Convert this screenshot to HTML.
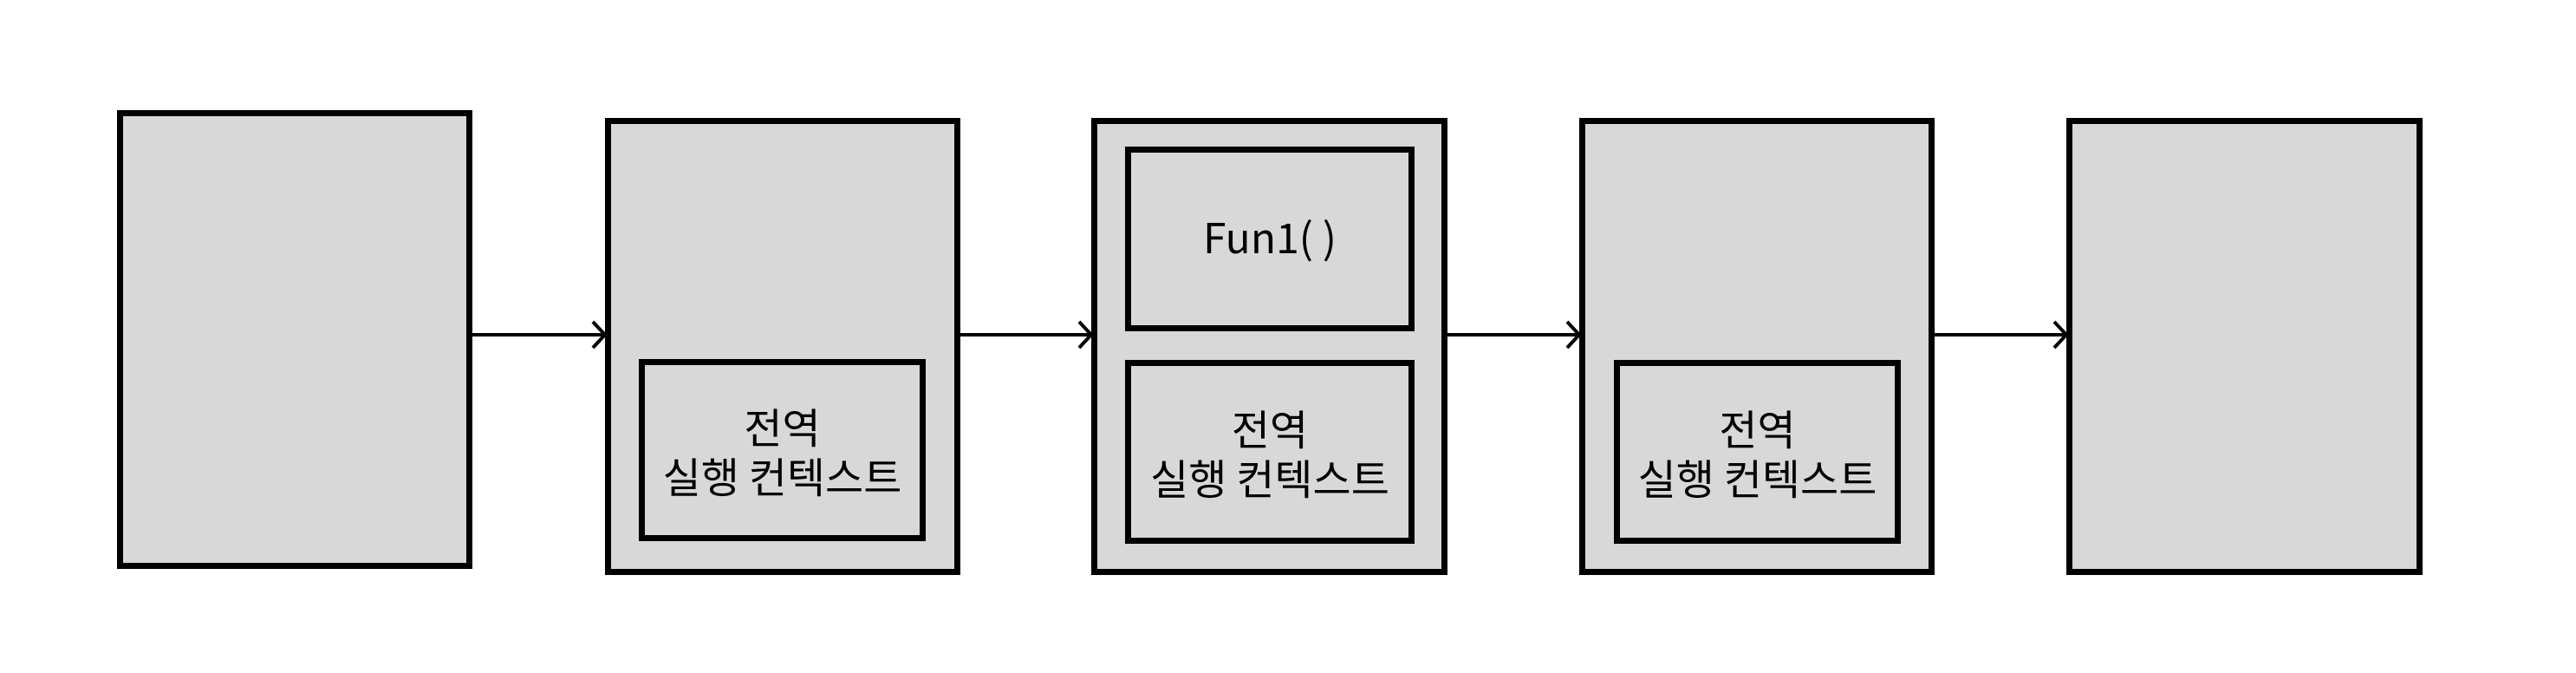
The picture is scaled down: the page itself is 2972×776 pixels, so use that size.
<!DOCTYPE html>
<html><head><meta charset="utf-8"><style>
html,body{margin:0;padding:0;background:#fff;}
body{width:2972px;height:776px;position:relative;overflow:hidden;font-family:"Liberation Sans","Noto Sans CJK KR",sans-serif;}
.b{position:absolute;background:#d8d8d8;border:7px solid #000;box-sizing:border-box;}
.t{position:absolute;display:flex;align-items:center;justify-content:center;text-align:center;font-size:48px;line-height:57px;color:#000;font-family:"Noto Sans CJK KR",sans-serif;}
</style></head><body>
<div class="b" style="left:135px;top:127px;width:410px;height:529px"></div>
<div class="b" style="left:698px;top:136px;width:410px;height:527px"></div>
<div class="b" style="left:1259px;top:136px;width:411px;height:527px"></div>
<div class="b" style="left:1822px;top:136px;width:410px;height:527px"></div>
<div class="b" style="left:2384px;top:136px;width:411px;height:527px"></div>

<div class="b t" style="left:737px;top:414px;width:331px;height:210px">전역<br>실행 컨텍스트</div>
<div class="b t" style="left:1298px;top:169px;width:334px;height:213px;padding-bottom:8px">Fun1( )</div>
<div class="b t" style="left:1298px;top:415px;width:334px;height:212px">전역<br>실행 컨텍스트</div>
<div class="b t" style="left:1862px;top:415px;width:331px;height:212px">전역<br>실행 컨텍스트</div>

<svg width="2972" height="776" style="position:absolute;left:0;top:0" fill="none" stroke="#000" stroke-width="4">
<path d="M545 386H698M684 371L698 386L684 401"/>
<path d="M1108 386H1259M1245 371L1259 386L1245 401"/>
<path d="M1670 386H1822M1808 371L1822 386L1808 401"/>
<path d="M2232 386H2384M2370 371L2384 386L2370 401"/>
</svg>
</body></html>
